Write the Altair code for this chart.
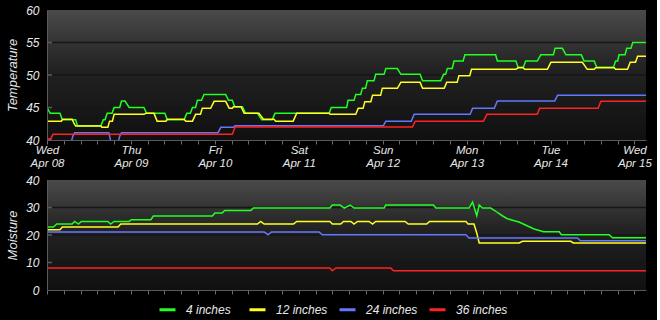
import altair as alt
import pandas as pd

SERIES = ["4 inches", "12 inches", "24 inches", "36 inches"]
COLORS = ["#22ff22", "#ffff22", "#6677ff", "#ff2222"]

# ---- Temperature (hours since Wed Apr 08 00:00, value) ----
T4_H = [0, 0.9, 3.7, 4.4, 8.2, 8.7, 15.4, 16.1, 16.6, 17.2,
        18.6, 19.2, 20.8, 21.3, 22.3, 23.5, 27.7, 28.5, 33.7, 34.4,
        39.2, 40.0, 41.0, 41.6, 42.5, 43.0, 44.2, 44.9, 51.1, 51.9,
        53.0, 53.7, 55.9, 56.8, 60.2, 61.4, 64.4, 65.2, 80.7, 81.3,
        85.7, 86.1, 87.8, 88.3, 89.7, 90.2, 91.1, 91.6, 93.5, 94.0,
        96.4, 96.9, 100.2, 101.2, 106.7, 107.4, 112.6, 113.4, 114.0, 114.5,
        115.9, 116.4, 119.0, 119.5, 128.3, 128.8, 134.1, 134.7, 136.2, 136.9,
        140.2, 141.2, 144.8, 145.3, 147.4, 148.4, 152.8, 153.6, 156.5, 157.2,
        162.0, 162.6, 163.2, 163.6, 165.3, 165.8, 167.0, 167.5, 171.3]
T4_V = [45.0, 44.1, 44.1, 43.1, 43.1, 42.2, 42.2, 43.1, 43.1, 44.1,
        44.1, 45.0, 45.0, 46.0, 46.0, 45.0, 45.0, 44.1, 44.1, 43.1,
        43.1, 44.1, 44.1, 45.0, 45.0, 46.1, 46.1, 47.0, 47.0, 46.1,
        46.1, 45.1, 45.1, 44.1, 44.1, 43.1, 43.1, 44.1, 44.1, 45.0,
        45.0, 46.1, 46.1, 47.0, 47.0, 47.95, 47.95, 49.1, 49.1, 50.1,
        50.1, 51.0, 51.0, 50.1, 50.1, 49.1, 49.1, 50.1, 50.1, 51.0,
        51.0, 52.15, 52.15, 53.1, 53.1, 52.15, 52.15, 51.2, 51.2, 52.15,
        52.15, 53.1, 53.1, 54.1, 54.1, 53.1, 53.1, 52.15, 52.15, 51.2,
        51.2, 52.15, 52.15, 53.1, 53.1, 54.1, 54.1, 55.0, 55.0]

T12_H = [0, 4.1, 4.5, 7.2, 7.7, 8.2, 15.4, 15.7, 17.4, 17.9,
         18.7, 19.2, 27.7, 28.3, 30.6, 31.5, 34.0, 34.4, 39.2, 39.7,
         41.6, 42.5, 43.9, 44.4, 46.8, 47.8, 51.1, 52.1, 53.0, 53.3,
         55.5, 56.4, 60.6, 61.9, 64.9, 65.4, 70.4, 71.4, 80.7, 81.0,
         88.3, 89.0, 90.4, 90.9, 92.6, 93.1, 95.4, 95.9, 100.2, 101.2,
         106.7, 107.4, 113.6, 114.3, 117.3, 117.8, 120.9, 121.4, 134.1, 134.7,
         136.2, 136.6, 143.1, 144.1, 153.1, 154.5, 156.5, 156.9, 162.2, 162.6,
         166.0, 166.8, 168.3, 168.9, 171.3]
T12_V = [42.9, 42.9, 43.2, 43.2, 42.6, 42.15, 42.15, 41.95, 41.95, 42.9,
         42.9, 43.95, 43.95, 44.1, 44.1, 42.9, 42.9, 43.2, 43.2, 42.9,
         42.9, 43.95, 43.95, 44.87, 44.87, 45.95, 45.95, 44.9, 44.9, 45.1,
         45.1, 44.1, 44.1, 43.2, 43.2, 42.9, 42.9, 44.1, 44.1, 43.95,
         43.95, 44.87, 44.87, 45.9, 45.9, 46.87, 46.87, 47.95, 47.95, 48.87,
         48.87, 47.95, 47.95, 48.87, 48.87, 49.9, 49.9, 50.87, 50.87, 51.1,
         51.1, 50.87, 50.87, 51.95, 51.95, 50.87, 50.87, 51.1, 51.1, 50.87,
         50.87, 51.95, 51.95, 52.87, 52.87]

T24_H = [0, 1.0, 1.5, 6.9, 7.4, 7.9, 17.7, 18.3, 20.3, 20.8,
         21.3, 48.9, 49.7, 53.3, 53.8, 96.2, 96.9, 104.2, 105.0, 121.0,
         121.7, 127.9, 128.8, 145.2, 146.0, 171.3]
T24_V = [40.1, 40.1, 39.6, 39.6, 40.6, 41.13, 41.13, 39.6, 39.6, 40.6,
         41.13, 41.13, 41.95, 41.95, 42.2, 42.2, 42.9, 42.9, 43.95, 43.95,
         44.87, 44.87, 46.0, 46.0, 46.87, 46.87]

T36_H = [0, 1.0, 1.7, 53.0, 53.8, 104.5, 105.3, 124.8, 125.8, 140.2, 140.9, 157.6, 158.4, 171.3]
T36_V = [40.1, 40.1, 40.87, 40.87, 42.0, 42.0, 42.87, 42.87, 43.95, 43.95, 44.87, 44.87, 45.95, 45.95]

# ---- Moisture ----
M4_H = [0, 1.8, 2.8, 7.2, 7.9, 9.0, 9.8, 17.4, 18.2, 19.2,
        23.5, 24.1, 29.7, 30.4, 47.3, 48.0, 50.1, 50.8, 58.3, 59.0,
        80.9, 81.6, 83.8, 85.0, 86.7, 87.8, 96.4, 96.9, 110.5, 111.2,
        120.7, 121.7, 122.9, 123.6, 124.5, 126.9, 127.9, 129.0, 130.2, 131.5,
        133.6, 135.0, 136.2, 137.9, 139.3, 142.0, 146.5, 147.1, 160.8, 161.7,
        171.3]
M4_V = [22.9, 22.9, 24.0, 24.0, 24.95, 24.0, 24.95, 24.95, 24.0, 24.95,
        24.95, 25.56, 25.56, 26.9, 26.9, 28.0, 28.0, 28.95, 28.95, 29.8,
        29.8, 30.9, 30.9, 29.8, 30.9, 29.8, 29.8, 30.9, 30.9, 29.8,
        29.8, 32.0, 27.0, 30.9, 29.8, 29.8, 29.0, 28.0, 27.0, 26.0,
        25.2, 24.7, 24.0, 23.0, 22.2, 21.2, 21.2, 20.1, 20.1, 19.0,
        19.0]

M12_H = [0, 3.7, 4.4, 20.3, 21.1, 60.2, 61.1, 62.1, 70.5, 71.4,
         80.9, 81.6, 84.0, 84.8, 86.9, 87.8, 88.8, 92.1, 93.1, 94.0,
         102.4, 103.3, 108.6, 109.4, 119.8, 120.4, 122.1, 122.9, 123.6, 135.0,
         136.0, 149.8, 150.5, 171.3]
M12_V = [21.9, 21.9, 22.9, 22.9, 24.0, 24.0, 24.95, 24.0, 24.0, 24.95,
         24.95, 24.0, 24.0, 24.95, 24.95, 24.0, 24.95, 24.95, 24.0, 24.95,
         24.95, 24.0, 24.0, 24.95, 24.95, 24.0, 24.0, 20.7, 17.1, 17.1,
         17.7, 17.7, 17.1, 17.1]

M24_H = [0, 62.1, 63.2, 64.2, 77.8, 78.7, 119.8, 120.7, 151.7, 152.5, 171.3]
M24_V = [21.1, 21.1, 20.1, 21.1, 21.1, 20.1, 20.1, 18.9, 18.9, 17.9, 17.9]

M36_H = [0, 80.9, 81.6, 82.6, 98.3, 99.1, 171.3]
M36_V = [8.0, 8.0, 7.0, 8.0, 8.0, 7.0, 7.0]

TEMP_TICKS = [40, 45, 50, 55, 60]
MOIST_TICKS = [0, 10, 20, 30, 40]
TEMP_GRID = [45, 50, 55]
MOIST_GRID = [10, 20, 30]
END_HOURS = 171.3
TICK_STEP_HOURS = 4.8
N_TICKS = 36

START_MS = int(pd.Timestamp("2015-04-08", tz="UTC").value // 10**6)
HOUR_MS = 3600000


def frame(pairs):
    rows = []
    for name, (hs, vs) in zip(SERIES, pairs):
        df = pd.DataFrame({"h": hs, "v": vs})
        for h, v in zip(df["h"], df["v"]):
            rows.append({"t": START_MS + int(round(h * HOUR_MS)), "v": v, "s": name})
    return pd.DataFrame(rows)


temp_df = frame([(T4_H, T4_V), (T12_H, T12_V), (T24_H, T24_V), (T36_H, T36_V)])
moist_df = frame([(M4_H, M4_V), (M12_H, M12_V), (M24_H, M24_V), (M36_H, M36_V)])

W = 599
X_DOMAIN = [START_MS, START_MS + int(END_HOURS * HOUR_MS)]
X_TICKS = [START_MS + int(i * TICK_STEP_HOURS * HOUR_MS) for i in range(N_TICKS)]

FONT = "Liberation Sans"
TXT = "#e8e8e8"

legend = alt.Legend(
    title=None, orient="none", direction="horizontal", columns=4, gridAlign="all",
    legendX=111, legendY=290,
    symbolType="stroke", symbolSize=256, symbolStrokeWidth=3,
    labelFont=FONT, labelFontStyle="italic", labelFontSize=12, labelColor=TXT,
    labelOffset=9, columnPadding=5, labelLimit=60,
)


def panel(df, ymin, ymax, yticks, ygrid, title, height, show_labels):
    yscale = alt.Scale(domain=[ymin, ymax], nice=False, zero=False)
    yaxis = alt.Axis(values=yticks, title=title, grid=False, ticks=False, zindex=1,
                     labelPadding=8, titlePadding=6, domainColor="#5a5a5a")

    bg = alt.Chart(pd.DataFrame({"a": [0]})).mark_rect(
        fill=alt.LinearGradient(
            gradient="linear",
            stops=[alt.GradientStop(color="#4a4a4a", offset=0),
                   alt.GradientStop(color="#222222", offset=0.45),
                   alt.GradientStop(color="#101010", offset=1)],
            x1=0, x2=0, y1=0, y2=1),
    ).encode(x=alt.value(0), x2=alt.value(W), y=alt.value(0), y2=alt.value(height))

    gdf = pd.DataFrame({"v": ygrid})
    grid = alt.Chart(gdf).mark_rule(color="#161616", strokeWidth=1.5).encode(
        y=alt.Y("v:Q", scale=yscale, axis=yaxis), x=alt.value(5), x2=alt.value(W))
    ticks_in = alt.Chart(gdf).mark_rule(color="#5a5a5a", strokeWidth=1.5).encode(
        y=alt.Y("v:Q", scale=yscale, axis=yaxis), x=alt.value(0), x2=alt.value(5))

    if show_labels:
        xaxis = alt.Axis(
            values=X_TICKS, title=None, grid=False, zindex=1,
            labelExpr="utchours(datum.value) == 0 && utcminutes(datum.value) == 0 ? "
                      "[utcFormat(datum.value, '%a'), utcFormat(datum.value, '%b %d')] : ''",
            labelOverlap=False, labelFlush=False, labelBound=False,
            labelPadding=0, labelLineHeight=13, labelFontSize=11.5,
            tickSize=4, domainColor="#5a5a5a", tickColor="#6a6a6a",
        )
    else:
        xaxis = alt.Axis(values=X_TICKS, title=None, grid=False, labels=False, zindex=1,
                         tickSize=4, domainColor="#5a5a5a", tickColor="#6a6a6a")

    lines = alt.Chart(df).mark_line(strokeWidth=1.5, clip=True).encode(
        x=alt.X("t:T", scale=alt.Scale(type="utc", domain=X_DOMAIN), axis=xaxis),
        y=alt.Y("v:Q", scale=yscale, axis=yaxis),
        color=alt.Color("s:N", scale=alt.Scale(domain=SERIES, range=COLORS), legend=legend),
    )
    return alt.layer(bg, grid, ticks_in, lines).properties(width=W, height=height)


top = panel(temp_df, 40, 60, TEMP_TICKS, TEMP_GRID, "Temperature", 130, True)
bottom = panel(moist_df, 0, 40, MOIST_TICKS, MOIST_GRID, "Moisture", 110, False)

chart = alt.vconcat(top, bottom, spacing=40, bounds="flush").properties(
    background="#000000",
    padding={"left": 6, "top": 4, "right": 5, "bottom": 5},
).configure_view(stroke=None).configure_axis(
    labelFont=FONT, labelFontStyle="italic", labelColor=TXT, labelFontSize=12,
    titleFont=FONT, titleFontStyle="italic", titleFontWeight="normal",
    titleColor=TXT, titleFontSize=13,
)

chart.save("out.html", embed_options={"renderer": "svg", "actions": False})
